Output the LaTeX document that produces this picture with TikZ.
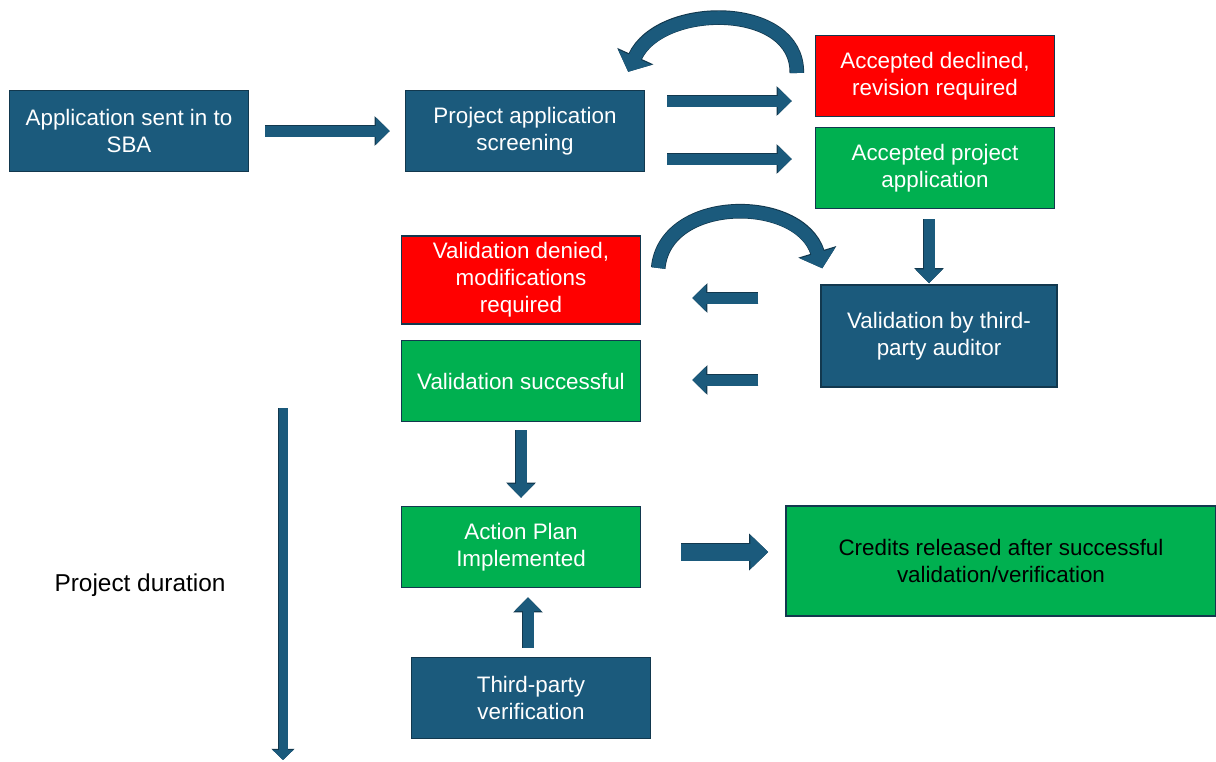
\documentclass[tikz,border=0pt]{standalone}
\usepackage{fontspec}
\setmainfont{Liberation Sans}
\usetikzlibrary{arrows.meta,calc}
\definecolor{boxblue}{HTML}{1B5A7C}
\definecolor{boxred}{HTML}{FF0000}
\definecolor{boxgreen}{HTML}{00B050}
\definecolor{edgedark}{HTML}{12384E}
\begin{document}
\begin{tikzpicture}[
		x=0.5pt, y=-0.5pt,
		font=\fontsize{11.2}{13.5}\selectfont
	]
	\tikzset{
		boxb/.style = {rectangle, draw=edgedark, line width=0.7pt, fill=boxblue, text=white, align=center, minimum width=119.5pt, minimum height=40.5pt},
		boxr/.style = {boxb, fill=boxred},
		boxg/.style = {boxb, fill=boxgreen},
		arr/.style = {line width=5.5pt, draw=boxblue, -{Triangle[length=7pt,width=13pt]},
			preaction={draw=edgedark, line width=6.3pt, -{Triangle[length=7.6pt,width=14.4pt]}}},
		arrbig/.style = {line width=8.5pt, draw=boxblue, -{Triangle[length=9pt,width=16.5pt]},
			preaction={draw=edgedark, line width=9.3pt, -{Triangle[length=9.6pt,width=17.9pt]}}},
		arrcurve/.style = {line width=6.5pt, draw=boxblue, -{Triangle[length=8pt,width=18pt]},
			preaction={draw=edgedark, line width=7.3pt, -{Triangle[length=8.6pt,width=19.4pt]}}},
		arrlong/.style = {line width=4.5pt, draw=boxblue, -{Triangle[length=5pt,width=10pt]},
			preaction={draw=edgedark, line width=5.2pt, -{Triangle[length=5.6pt,width=11.2pt]}}},
	}
		\useasboundingbox (0,0) rectangle (1216,761);
		\node[boxb] at (129,131) (apply) {Application sent in to\\SBA};
		\node[boxb] at (525,131) (screen) {Project application\\screening};
		\node[boxr] at (935,76) (declined) {Accepted declined,\\revision required};
		\node[boxg] at (935,168) (accepted) {Accepted project\\application};
		\node[boxb, minimum width=118pt, minimum height=51pt] at (939,336) (audit) {Validation by third-\\party auditor};
		\node[boxr] at (521,280) (denied) {Validation denied,\\modifications\\required};
		\node[boxg] at (521,381) (success) {Validation successful};
		\node[boxg] at (521,547) (plan) {Action Plan\\Implemented};
		\node[boxb] at (531,698) (verify) {Third-party\\verification};
		\node[boxg, text=black, minimum width=215pt, minimum height=55pt] at (1001,561) (credits) {Credits released after successful\\validation/verification};
		\node[font=\fontsize{12.2}{14}\selectfont] at (140,585) (duration) {Project duration};
		\coordinate (dtop) at (283,408);
		\coordinate (dbot) at (283,760);
		%
		\draw[arr] ($(apply.east)+(16,0)$) -- ($(screen.west)+(-15,0)$);
		\draw[arr] ($(screen.east)+(22,-30)$) -- ($(declined.west)+(-23,25)$);
		\draw[arr] ($(screen.east)+(22,28)$) -- ($(accepted.west)+(-23,-9)$);
		\draw[arr] ($(accepted.south)+(-6,10)$) -- ($(audit.north)+(-10,-1)$);
		%
		\draw[arr] ($(audit.west)+(-62,-38)$) -- ($(denied.east)+(51,18)$);
		\draw[arr] ($(audit.west)+(-62,44)$) -- ($(success.east)+(51,-1)$);
		\draw[arr] ($(success.south)+(0,8)$) -- ($(plan.north)+(0,-8)$);
		\draw[arr] ($(verify.north)+(-3,-9)$) -- ($(plan.south)+(7,9)$);
		\draw[arrbig] ($(plan.east)+(40,5)$) -- ($(credits.west)+(-17,-9)$);
		%
		\draw[arrcurve] ($(declined.west)+(-18,-3)$) .. controls (798,2) and (660,2) .. ($(screen.north east)+(-17,-18)$);
		\draw[arrcurve] ($(denied.east)+(17,-12)$) .. controls (665,195) and (800,195) .. ($(audit.north west)+(2,-16)$);
		%
		\draw[arrlong] (dtop) -- (dbot);
	\end{tikzpicture}
\end{document}
